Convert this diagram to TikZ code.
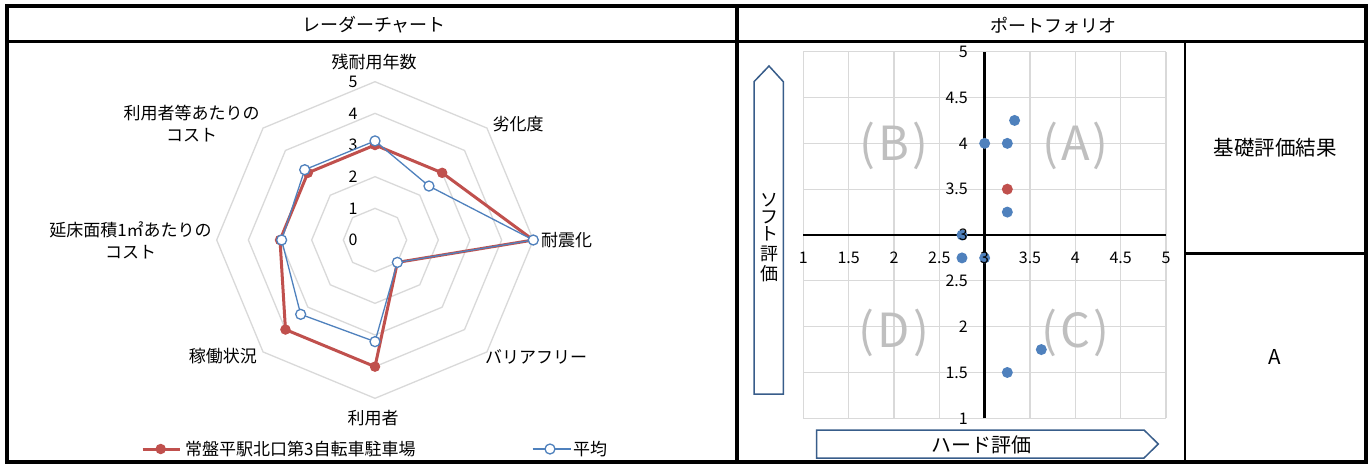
\documentclass[tikz,border=0pt]{standalone}
\usepackage{fontspec}
\setmainfont{Noto Sans CJK JP}
\definecolor{sred}{RGB}{192,80,77}
\definecolor{sblue}{RGB}{79,129,189}
\definecolor{gridc}{RGB}{217,217,217}
\definecolor{quadc}{RGB}{191,191,191}
\definecolor{arrowc}{RGB}{56,93,138}
\newcommand{\pfx}[1]{(803.3+(#1-1)*90.675)}
\newcommand{\pfy}[1]{(418.3-(#1-1)*91.65)}
\newcommand{\qlab}[1]{(\hspace{3pt}#1\hspace{3pt})}
\begin{document}
\begin{tikzpicture}[x=1pt,y=-1pt,
  txt/.style={inner sep=0pt, font=\fontsize{17}{22}\selectfont, align=center},
  hdr/.style={inner sep=0pt, font=\fontsize{18}{22}\selectfont},
  tick/.style={inner sep=0pt, font=\fontsize{16}{20}\selectfont},
  big/.style={inner sep=0pt, font=\fontsize{20.5}{24}\selectfont},
  quad/.style={inner sep=0pt, text=quadc, font=\fontsize{47}{50}\selectfont},
  rdot/.style={circle, fill=sred, inner sep=0pt, minimum size=10.5pt},
  bdot/.style={circle, draw=sblue, fill=white, line width=1.3pt, inner sep=0pt, minimum size=10pt},
  pdot/.style={circle, fill=sblue, inner sep=0pt, minimum size=11pt},
  pred/.style={circle, fill=sred, inner sep=0pt, minimum size=11pt},
  frame/.style={line width=3.5pt},
  thin frame/.style={line width=2.5pt},
  arrowbox/.style={draw=arrowc, line width=1.5pt, fill=white, line join=miter}
]
\useasboundingbox (0,0) rectangle (1370,464);
\fill[white] (0,0) rectangle (1370,464);

% ---------- frame ----------
\draw[frame] (7,6) rectangle (1366,462);
\draw[frame] (7,41.5) -- (1366,41.5);
\draw[frame] (737,6) -- (737,462);
\draw[thin frame] (1185,41.5) -- (1185,462);
\draw[thin frame] (1185,253.7) -- (1366,253.7);

\node[hdr] (h1) at (374,25) {レーダーチャート};
\node[hdr] (h2) at (1053,25) {ポートフォリオ};

% ---------- radar chart ----------
\begin{scope}[shift={(375,240)},yscale=-1]
  \foreach \v in {1,...,5} {
    \draw[gridc, line width=1.3pt] (90:\v*31.66)
      \foreach \k in {1,...,7} { -- ({90-45*\k}:\v*31.66) } -- cycle;
  }
  \foreach \v in {0,...,5} {
    \node[tick] (t\v) at (-22,\v*31.66) {\v};
  }
  \foreach \val [count=\k from 0] in {3,3,5,1,4,4,3,3} {
    \coordinate (r\k) at ({90-45*\k}:{\val*31.66});
  }
  \foreach \val [count=\k from 0] in {3.13,2.41,5,1,3.21,3.32,2.95,3.14} {
    \coordinate (b\k) at ({90-45*\k}:{\val*31.66});
  }
\end{scope}
\draw[sred, line width=3pt, line join=round] (r0) -- (r1) -- (r2) -- (r3) -- (r4) -- (r5) -- (r6) -- (r7) -- cycle;
\foreach \k in {0,...,7} { \node[rdot] (rm\k) at (r\k) {}; }
\draw[sblue, line width=1.3pt, line join=round] (b0) -- (b1) -- (b2) -- (b3) -- (b4) -- (b5) -- (b6) -- (b7) -- cycle;
\foreach \k in {0,...,7} { \node[bdot] (bm\k) at (b\k) {}; }

\node[txt] (l0) at (374,62) {残耐用年数};
\node[txt] (l1) at (518,124) {劣化度};
\node[txt, anchor=west] (l2) at (541,240) {耐震化};
\node[txt] (l3) at (536,356.5) {バリアフリー};
\node[txt] (l4) at (373,418) {利用者};
\node[txt, anchor=east] (l5) at (257,356.5) {稼働状況};
\node[txt] (l6) at (130.5,240) {延床面積1㎡あたりの\\コスト};
\node[txt] (l7) at (191.7,123.7) {利用者等あたりの\\コスト};

% legend
\coordinate (lgA1) at (142.7,449);
\coordinate (lgA2) at (180,449);
\draw[sred, line width=3pt] (lgA1) -- (lgA2);
\node[rdot] (lgAm) at (160.7,449) {};
\node[txt, anchor=west] (lgAt) at (185,449) {常盤平駅北口第3自転車駐車場};
\coordinate (lgB1) at (532.5,449);
\coordinate (lgB2) at (570.5,449);
\draw[sblue, line width=1.3pt] (lgB1) -- (lgB2);
\node[bdot] (lgBm) at (550,449) {};
\node[txt, anchor=west] (lgBt) at (573,449) {平均};

% ---------- portfolio ----------
\foreach \t in {1,1.5,2,2.5,3,3.5,4,4.5,5} {
  \draw[gridc, line width=1.2pt] ({\pfx{\t}},{\pfy{1}}) -- ({\pfx{\t}},{\pfy{5}});
  \draw[gridc, line width=1.2pt] ({\pfx{1}},{\pfy{\t}}) -- ({\pfx{5}},{\pfy{\t}});
}
\node[quad] (qB) at ({\pfx{2}},{\pfy{4}+3}) {\qlab{B}};
\node[quad] (qA) at ({\pfx{4}},{\pfy{4}+3}) {\qlab{A}};
\node[quad] (qD) at ({\pfx{2}},{\pfy{2}+6}) {\qlab{D}};
\node[quad] (qC) at ({\pfx{4}},{\pfy{2}+6}) {\qlab{C}};
\coordinate (ax1) at ({\pfx{3}},{\pfy{1}});
\coordinate (ax2) at ({\pfx{3}},{\pfy{5}});
\coordinate (ay1) at ({\pfx{1}},{\pfy{3}});
\coordinate (ay2) at ({\pfx{5}},{\pfy{3}});
\draw[line width=2.5pt] (ax1) -- (ax2);
\draw[line width=2.5pt] (ay1) -- (ay2);

\foreach \px/\py [count=\i] in {3.33/4.25, 3/4, 3.25/4, 3.25/3.25, 2.75/3, 2.75/2.75, 3/2.75, 3.625/1.75, 3.25/1.5} {
  \node[pdot] (p\i) at ({\pfx{\px}},{\pfy{\py}}) {};
}
\node[pred] (pr) at ({\pfx{3.25}},{\pfy{3.5}}) {};

\foreach \t/\s [count=\i] in {1/1,1.5/1.5,2/2,2.5/2.5,3/3,3.5/3.5,4/4,4.5/4.5,5/5} {
  \node[tick] (xt\i) at ({\pfx{\t}},258) {\s};
  \node[tick, anchor=east] (yt\i) at (968,{\pfy{\t}}) {\s};
}

% arrows
\draw[arrowbox] (754,394) -- (754,81.7) -- (769,66) -- (783.3,81.7) -- (783.3,394) -- cycle;
\node[hdr] (sv1) at (769,200) {ソ};
\node[hdr] (sv2) at (769,217) {フ};
\node[hdr] (sv3) at (769,234) {ト};
\node[hdr] (sv4) at (769,254) {評};
\node[hdr] (sv5) at (769,274) {価};
\draw[arrowbox] (816.5,430) -- (1144,430) -- (1158.3,444) -- (1144,458) -- (816.5,458) -- cycle;
\node[inner sep=0pt, font=\fontsize{20}{24}\selectfont] (hard) at (981,445) {ハード評価};

% right column
\node[big] (kiso) at (1275,148) {基礎評価結果};
\node[big] (res) at (1275,357) {A};
\end{tikzpicture}
\end{document}
